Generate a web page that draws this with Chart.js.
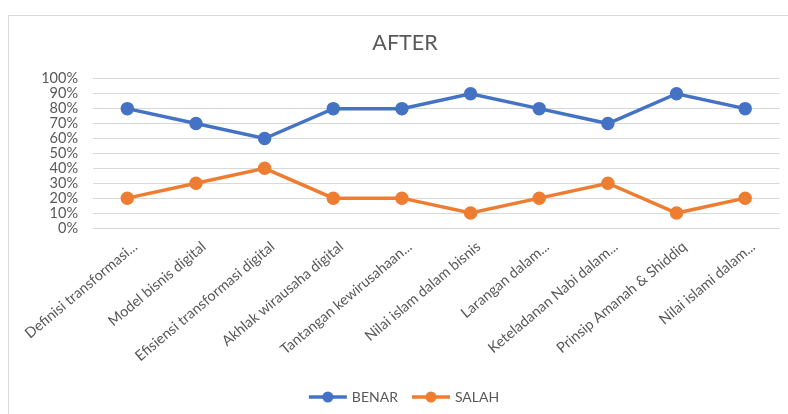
<!DOCTYPE html>
<html>
<head>
<meta charset="utf-8">
<script src="https://cdn.jsdelivr.net/npm/chart.js@4/dist/chart.umd.min.js"></script>
<style>
  html, body { margin: 0; padding: 0; background: #fff; overflow: hidden; }
  #frame { position: absolute; left: 8px; top: 15px; width: 800px; height: 420px; border: 1px solid #d9d9d9; }
  #wrap { position: absolute; left: 0; top: 0; width: 788px; height: 414px; }
</style>
</head>
<body>
<div id="frame"></div>
<div id="wrap"><canvas id="grafico" width="788" height="414"></canvas></div>
<script>
// Dados do gráfico
const categorias = [
    'Definisi transformasi...',
    'Model bisnis digital',
    'Efisiensi transformasi digital',
    'Akhlak wirausaha digital',
    'Tantangan kewirusahaan...',
    'Nilai islam dalam bisnis',
    'Larangan dalam...',
    'Keteladanan Nabi dalam...',
    'Prinsip Amanah & Shiddiq',
    'Nilai islami dalam...'
];
const benar = [0.8, 0.7, 0.6, 0.8, 0.8, 0.9, 0.8, 0.7, 0.9, 0.8];
const salah = [0.2, 0.3, 0.4, 0.2, 0.2, 0.1, 0.2, 0.3, 0.1, 0.2];
const judul = 'AFTER';

const AZUL = '#4472C4';
const LARANJA = '#ED7D31';
const CINZA = '#595959';

// ícone da legenda: linha com círculo
function iconeLegenda(cor) {
    const c = document.createElement('canvas');
    c.width = 40; c.height = 12;
    const ctx = c.getContext('2d');
    ctx.strokeStyle = cor;
    ctx.lineWidth = 3.5;
    ctx.beginPath();
    ctx.moveTo(1, 6); ctx.lineTo(39, 6);
    ctx.stroke();
    ctx.fillStyle = cor;
    ctx.beginPath();
    ctx.arc(20, 6, 5.5, 0, Math.PI * 2);
    ctx.fill();
    return c;
}

Chart.defaults.font.family = 'Lato, "Open Sans", sans-serif';
Chart.defaults.color = CINZA;

new Chart(document.getElementById('grafico'), {
    type: 'line',
    data: {
        labels: categorias,
        datasets: [{
            label: 'BENAR',
            data: benar,
            borderColor: AZUL,
            backgroundColor: AZUL,
            borderWidth: 3.5,
            pointRadius: 5,
            pointHoverRadius: 5
        }, {
            label: 'SALAH',
            data: salah,
            borderColor: LARANJA,
            backgroundColor: LARANJA,
            borderWidth: 3.5,
            pointRadius: 5,
            pointHoverRadius: 5
        }]
    },
    options: {
        responsive: false,
        animation: false,
        devicePixelRatio: 1,
        elements: { point: { pointStyle: 'circle' } },
        layout: { padding: { left: 30, right: 8, top: 0, bottom: 0 } },
        plugins: {
            title: {
                display: true,
                text: judul,
                color: CINZA,
                font: { size: 21.5, weight: 'normal' },
                padding: { top: 30, bottom: 23 }
            },
            legend: {
                position: 'bottom',
                labels: {
                    usePointStyle: true,
                    pointStyleWidth: 34,
                    font: { size: 14 },
                    color: CINZA,
                    padding: 16,
                    generateLabels: chart => chart.data.datasets.map((ds, i) => ({
                        text: ds.label,
                        fillStyle: ds.borderColor,
                        strokeStyle: ds.borderColor,
                        lineWidth: 0,
                        pointStyle: iconeLegenda(ds.borderColor),
                        datasetIndex: i,
                        fontColor: CINZA
                    }))
                }
            },
            tooltip: { enabled: false }
        },
        scales: {
            x: {
                offset: true,
                grid: { display: false },
                border: { display: false },
                ticks: {
                    autoSkip: false,
                    minRotation: 40,
                    maxRotation: 40,
                    padding: 2,
                    labelOffset: 8,
                    font: { size: 14.5 },
                    color: CINZA
                },
                afterFit: s => { s.height = 146; }
            },
            y: {
                min: 0,
                max: 1,
                grid: { color: '#d9d9d9', lineWidth: 1, drawTicks: false },
                border: { display: false },
                ticks: {
                    stepSize: 0.1,
                    autoSkip: false,
                    padding: 15,
                    font: { size: 14.5 },
                    color: CINZA,
                    callback: v => Math.round(v * 100) + '%'
                },
                afterFit: s => { s.width = 63; }
            }
        }
    }
});
</script>
</body>
</html>
